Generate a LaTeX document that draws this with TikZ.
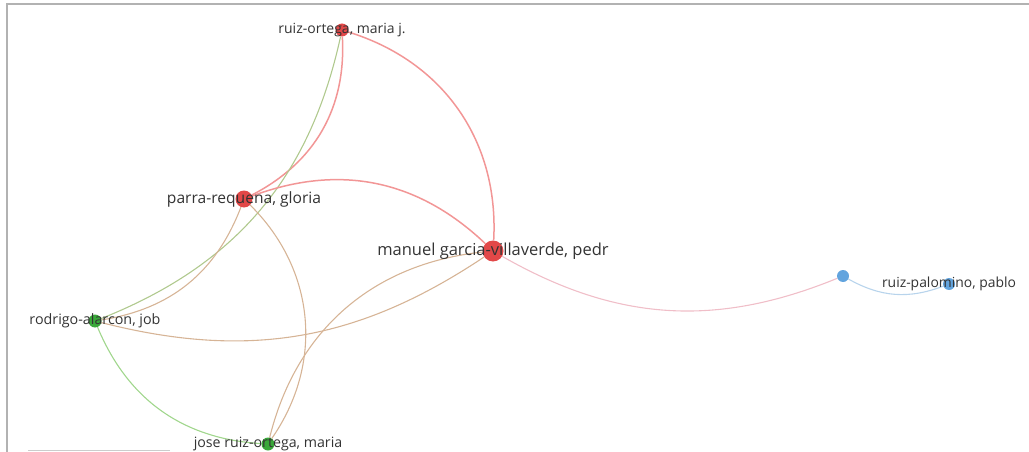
\documentclass[tikz,border=0pt]{standalone}
\usepackage{fontspec}
\setmainfont{Open Sans}
\usetikzlibrary{backgrounds}

\definecolor{vred}{RGB}{226,72,72}
\definecolor{vgreen}{RGB}{58,168,58}
\definecolor{vblue}{RGB}{98,164,222}
\definecolor{ered}{RGB}{242,150,150}
\definecolor{egreen}{RGB}{160,214,140}
\definecolor{emix}{RGB}{214,180,150}
\definecolor{epink}{RGB}{240,190,200}
\definecolor{eblue}{RGB}{184,212,236}

\tikzset{
  dot/.style={circle, inner sep=0pt, minimum size=13},
  lbl/.style={text=black!80, inner sep=0pt},
  link/.style={line width=1.1}
}

\begin{document}
\begin{tikzpicture}[x=1pt,y=1pt]
  \useasboundingbox (0,0) rectangle (1029,-452);
  \draw[black!30, line width=2] (7,-452) -- (7,-4) -- (1029,-4);
  \draw[black!20] (28,-450) -- (170,-450);

  % items
  \node[dot, fill=vred] (ruizj) at (342,-30) {};
  \node[dot, fill=vred, minimum size=17] (parra) at (244,-199) {};
  \node[dot, fill=vred, minimum size=21] (manuel) at (493,-251) {};
  \node[dot, fill=vgreen] (rodrigo) at (95,-321) {};
  \node[dot, fill=vgreen] (jose) at (268,-444) {};
  \node[dot, fill=vblue, minimum size=12] (blue) at (843,-276) {};
  \node[dot, fill=vblue, minimum size=12] (pablo) at (949,-284) {};

  % links
  \begin{scope}[on background layer]
    \draw[link, ered, line width=1.5] (ruizj) to[bend left=38] (manuel);
    \draw[link, ered, line width=1.5] (ruizj) to[bend left=33] (parra);
    \draw[link, egreen!80!ered] (ruizj) to[bend left=28] (rodrigo);
    \draw[link, emix] (parra) to[bend left=30] (rodrigo);
    \draw[link, ered, line width=1.5] (parra) to[bend left=32] (manuel);
    \draw[link, emix] (parra) to[bend left=40] (jose);
    \draw[link, emix] (manuel) to[bend left=24] (rodrigo);
    \draw[link, emix] (manuel) to[bend right=35] (jose);
    \draw[link, egreen] (rodrigo) to[bend right=32] (jose);
    \draw[link, epink] (manuel) to[bend right=26] (blue);
    \draw[link, eblue] (blue) to[bend right=25] (pablo);
  \end{scope}

  % labels
  \node[lbl, font=\fontsize{14}{16}\selectfont] (ruizjL) at (ruizj) {ruiz-ortega, maria j.};
  \node[lbl, font=\fontsize{15.6}{18}\selectfont] (parraL) at (parra) {parra-requena, gloria};
  \node[lbl, font=\fontsize{16.5}{19}\selectfont] (manuelL) at (manuel) {manuel garcia-villaverde, pedr};
  \node[lbl, font=\fontsize{14.3}{16}\selectfont] (rodrigoL) at (rodrigo) {rodrigo-alarcon, job};
  \node[lbl, font=\fontsize{14.2}{16}\selectfont] (joseL) at (jose) {jose ruiz-ortega, maria};
  \node[lbl, font=\fontsize{13.9}{16}\selectfont] (pabloL) at (pablo) {ruiz-palomino, pablo};
\end{tikzpicture}
\end{document}
